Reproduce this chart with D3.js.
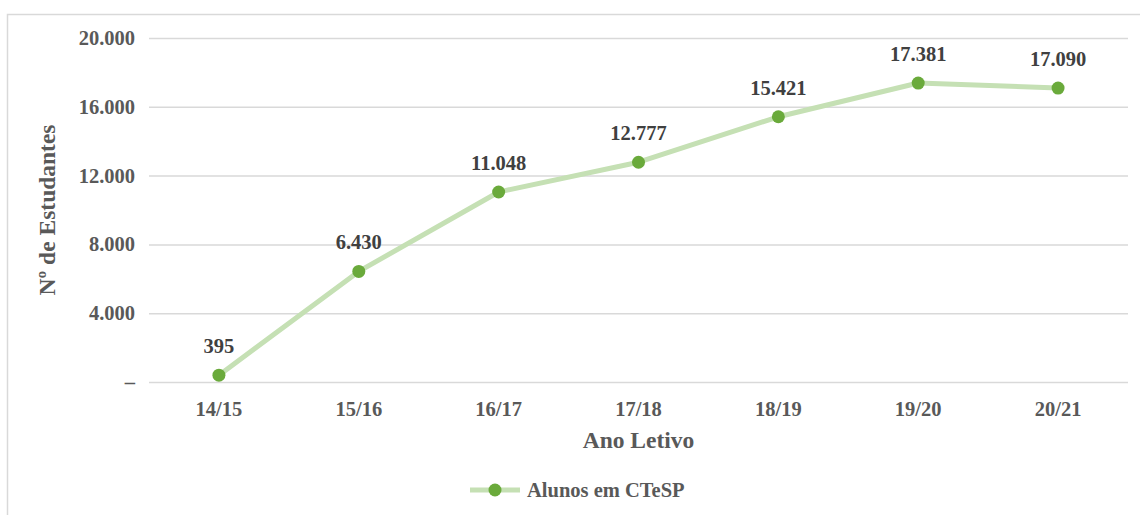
<!DOCTYPE html>
<html>
<head>
<meta charset="utf-8">
<script src="https://cdn.jsdelivr.net/npm/d3@7"></script>
<style>
  html, body { margin: 0; padding: 0; background: #ffffff; }
  svg { display: block; }
  text { font-family: "Liberation Serif", "Times New Roman", serif; font-weight: bold; }
</style>
</head>
<body>
<svg id="chart" width="1140" height="515"></svg>
<script>
// Students enrolled in CTeSP courses per academic year
const years = ["14/15", "15/16", "16/17", "17/18", "18/19", "19/20", "20/21"];
const students = [395, 6430, 11048, 12777, 15421, 17381, 17090];
const yTicks = [0, 4000, 8000, 12000, 16000, 20000];
const seriesName = "Alunos em CTeSP";

const W = 1140, H = 515;
const margin = { left: 149, right: 12, top: 38, bottom: 133 };
const svg = d3.select("#chart");

// chart-area frame
svg.append("rect")
  .attr("x", 7.5).attr("y", 14.5)
  .attr("width", W + 10).attr("height", H + 10)
  .attr("fill", "none").attr("stroke", "#d9d9d9").attr("stroke-width", 1.5);

const x = d3.scaleBand().domain(years).range([margin.left, W - margin.right]);
const y = d3.scaleLinear().domain([0, 20000]).range([H - margin.bottom, margin.top]);

const fmt = v => v === 0 ? "–" : d3.format(",")(v).replace(/,/g, ".");

// horizontal gridlines + y tick labels
const yAxis = d3.axisLeft(y).tickValues(yTicks).tickFormat(fmt)
  .tickSize(-(W - margin.left - margin.right)).tickPadding(14);
const gy = svg.append("g").attr("transform", `translate(${margin.left},0)`).call(yAxis);
gy.select(".domain").remove();
gy.selectAll(".tick line").attr("stroke", "#d9d9d9").attr("stroke-width", 1.5);
gy.selectAll(".tick text").attr("fill", "#595959").style("font-size", "20.5px");

// x tick labels
const xAxis = d3.axisBottom(x).tickSize(0).tickPadding(19);
const gx = svg.append("g").attr("transform", `translate(0,${H - margin.bottom})`).call(xAxis);
gx.select(".domain").remove();
gx.selectAll(".tick text").attr("fill", "#595959").style("font-size", "20.5px");

// series line
const cx = d => x(d) + x.bandwidth() / 2;
const pts = years.map((yr, i) => ({ yr, v: students[i] }));
svg.append("path")
  .datum(pts)
  .attr("fill", "none")
  .attr("stroke", "#c5e0b4")
  .attr("stroke-width", 5)
  .attr("stroke-linejoin", "round")
  .attr("d", d3.line().x(d => cx(d.yr)).y(d => y(d.v)));

// markers
svg.selectAll("circle.pt").data(pts).join("circle")
  .attr("class", "pt")
  .attr("cx", d => cx(d.yr)).attr("cy", d => y(d.v))
  .attr("r", 6.5).attr("fill", "#6aaa3b");

// value labels
svg.selectAll("text.val").data(pts).join("text")
  .attr("class", "val")
  .attr("x", d => cx(d.yr)).attr("y", d => y(d.v) - 22)
  .attr("text-anchor", "middle")
  .attr("fill", "#404040").style("font-size", "20.5px")
  .text(d => fmt(d.v));

// axis titles
svg.append("text")
  .attr("x", (margin.left + W - margin.right) / 2).attr("y", 448)
  .attr("text-anchor", "middle").attr("fill", "#595959").style("font-size", "23.5px")
  .text("Ano Letivo");

svg.append("text")
  .attr("transform", `translate(55,${(margin.top + H - margin.bottom) / 2}) rotate(-90)`)
  .attr("text-anchor", "middle").attr("fill", "#595959").style("font-size", "23.5px")
  .text("Nº de Estudantes");

// legend
const lg = svg.append("g").attr("transform", "translate(470,490)");
lg.append("line").attr("x1", 0).attr("x2", 50).attr("y1", 0).attr("y2", 0)
  .attr("stroke", "#c5e0b4").attr("stroke-width", 5);
lg.append("circle").attr("cx", 25).attr("cy", 0).attr("r", 6.5).attr("fill", "#6aaa3b");
lg.append("text").attr("x", 57).attr("y", 7).attr("fill", "#595959").style("font-size", "20.5px")
  .text(seriesName);
</script>
</body>
</html>
